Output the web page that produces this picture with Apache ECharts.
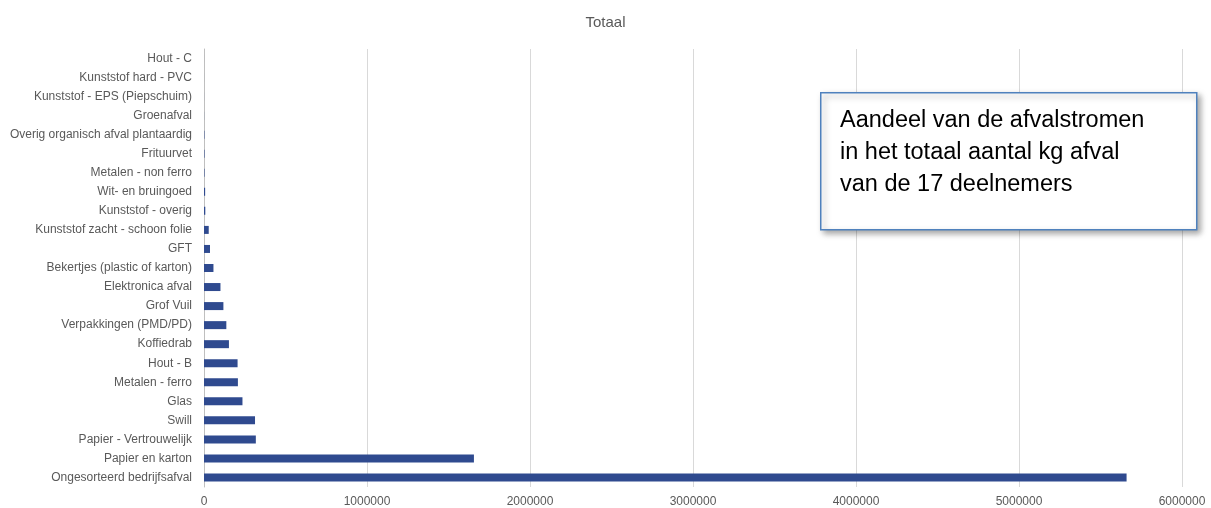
<!DOCTYPE html>
<html><head><meta charset="utf-8">
<script src="https://cdn.jsdelivr.net/npm/echarts@6/dist/echarts.min.js"></script>
<style>html,body{margin:0;padding:0;background:#fff}#c{width:1211px;height:508px}</style>
</head><body><div id="c"></div>
<script>
const categories = [
  "Ongesorteerd bedrijfsafval","Papier en karton","Papier - Vertrouwelijk","Swill","Glas",
  "Metalen - ferro","Hout - B","Koffiedrab","Verpakkingen (PMD/PD)","Grof Vuil",
  "Elektronica afval","Bekertjes (plastic of karton)","GFT","Kunststof zacht - schoon folie",
  "Kunststof - overig","Wit- en bruingoed","Metalen - non ferro","Frituurvet",
  "Overig organisch afval plantaardig","Groenafval","Kunststof - EPS (Piepschuim)",
  "Kunststof hard - PVC","Hout - C"
];
const values = [
  5660000,1656000,318000,313000,236000,
  208000,206000,153000,137000,119000,
  101000,58000,37000,29000,
  8000,7000,3000,3000,
  2500,500,200,
  100,50
];
const xTicks = [0,1000000,2000000,3000000,4000000,5000000,6000000];
const title = "Totaal";
const note = "Aandeel van de afvalstromen\nin het totaal aantal kg afval\nvan de 17 deelnemers";

const chart = echarts.init(document.getElementById('c'), null, {renderer:'canvas'});
const font = "Liberation Sans";
chart.setOption({
  animation:false,
  title:{text:title,left:'center',top:10,textStyle:{color:'#595959',fontSize:15,fontWeight:'normal',fontFamily:font}},
  grid:{left:204,right:29,top:49,bottom:21,containLabel:false},
  xAxis:{type:'value',min:xTicks[0],max:xTicks[xTicks.length-1],interval:1000000,
    axisLine:{show:false},axisTick:{show:false},
    axisLabel:{color:'#595959',fontSize:12,fontFamily:font,margin:9,formatter:v=>String(v)},
    splitLine:{show:true,lineStyle:{color:'#D9D9D9',width:1}}},
  yAxis:{type:'category',data:categories,
    axisLine:{show:true,lineStyle:{color:'#BFBFBF',width:1}},axisTick:{show:false},
    axisLabel:{color:'#595959',fontSize:12,fontFamily:font,margin:12,interval:0}},
  series:[{type:'bar',data:values,barWidth:8,itemStyle:{color:'#2F4A8F'}}],
  graphic:[
    {type:'rect',left:820,top:92,shape:{width:376,height:137},
     style:{fill:'#fff',stroke:'#4F81BD',lineWidth:1.5,shadowBlur:6,shadowOffsetX:3,shadowOffsetY:3,shadowColor:'rgba(0,0,0,0.35)'},z:10},
    {type:'text',left:840,top:105,style:{text:note,fill:'#000',fontSize:23.5,fontFamily:font,lineHeight:32},z:11}
  ]
});
</script></body></html>
